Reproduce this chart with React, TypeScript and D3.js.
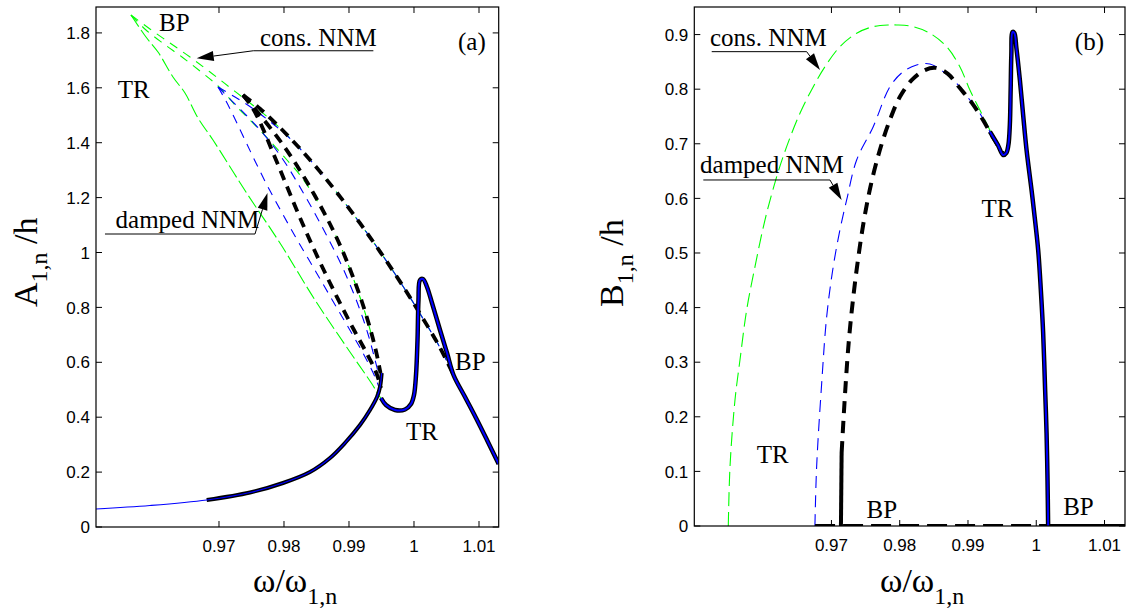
import React from 'react';
import * as d3 from 'd3';

type P = [number, number];

// ---------------- ticks ----------------
const xTicks = [0.97, 0.98, 0.99, 1.0, 1.01];
const yTicksA = [0, 0.2, 0.4, 0.6, 0.8, 1.0, 1.2, 1.4, 1.6, 1.8];
const yTicksB = [0, 0.1, 0.2, 0.3, 0.4, 0.5, 0.6, 0.7, 0.8, 0.9];

// ---------------- panel (a) : A_{1,n}/h ----------------
const aStableLow: P[] = [
  [0.95108, 0.0656], [0.95938, 0.0783], [0.96811, 0.0984], [0.97477, 0.1257],
  [0.97985, 0.1603], [0.984, 0.2004], [0.98708, 0.2514], [0.98938, 0.306],
  [0.99169, 0.3716], [0.99323, 0.4262], [0.99431, 0.4736], [0.99477, 0.51],
  [0.99503, 0.561],
];
const aPeak: P[] = [
  [0.99492, 0.4699], [0.99569, 0.4444], [0.99708, 0.4262], [0.99862, 0.4281],
  [0.99954, 0.4481], [1.0, 0.4809], [1.00031, 0.5537], [1.00054, 0.6812],
  [1.00069, 0.827], [1.00092, 0.8998], [1.00138, 0.9035], [1.002, 0.8743],
  [1.00277, 0.816], [1.004, 0.7177], [1.00508, 0.6339], [1.00608, 0.5537],
  [1.00785, 0.4736], [1.00954, 0.3971], [1.01123, 0.3169], [1.01303, 0.2295],
];
const aGreenL: P[] = [
  [0.95646, 1.8652], [0.95877, 1.7851], [0.96062, 1.7304], [0.96292, 1.6393],
  [0.96477, 1.5811], [0.96677, 1.49], [0.96908, 1.4098], [0.97415, 1.2204],
  [0.97938, 1.0346], [0.98477, 0.827], [0.99015, 0.6375], [0.99354, 0.5209],
  [0.99477, 0.4736], [0.996, 0.4408], [0.99708, 0.4226],
];
const aGreenM: P[] = [
  [0.95646, 1.8652], [0.95877, 1.8106], [0.96154, 1.7596], [0.96431, 1.7122],
  [0.96708, 1.6612], [0.96985, 1.6066], [0.97262, 1.5337], [0.97538, 1.4681],
  [0.978, 1.4026], [0.98046, 1.337], [0.98246, 1.2823], [0.98446, 1.2131],
  [0.98631, 1.1403], [0.988, 1.0601], [0.98954, 0.9763], [0.99092, 0.8889],
  [0.99215, 0.8051], [0.99308, 0.7322], [0.99369, 0.6812],
];
const aGreenR: P[] = [
  [0.95646, 1.8652], [0.95938, 1.8142], [0.96246, 1.7632], [0.96554, 1.7122],
  [0.96862, 1.6576], [0.97169, 1.6011], [0.97477, 1.5446], [0.97785, 1.4863],
  [0.98015, 1.4353], [0.98246, 1.3785], [0.98554, 1.2947], [0.98862, 1.2036],
  [0.99169, 1.1067], [0.99477, 1.0033], [0.99785, 0.894], [1.00092, 0.7774],
  [1.004, 0.6536], [1.00608, 0.5537],
];
const aBlueL: P[] = [
  [0.96985, 1.6029], [0.97108, 1.5519], [0.97246, 1.4863], [0.974, 1.4098],
  [0.97569, 1.326], [0.97754, 1.2386], [0.97954, 1.1512], [0.98169, 1.0601],
  [0.98385, 0.9727], [0.986, 0.8852], [0.98815, 0.7978], [0.99031, 0.7104],
  [0.99231, 0.6266], [0.994, 0.5464], [0.99492, 0.4882],
];
const aBlueM: P[] = [
  [0.96985, 1.6029], [0.972, 1.5519], [0.97431, 1.4973], [0.97646, 1.4426],
  [0.97846, 1.3843], [0.98031, 1.3224], [0.982, 1.2568], [0.98369, 1.1876],
  [0.98538, 1.1148], [0.98708, 1.0383], [0.98877, 0.9581], [0.99031, 0.8743],
  [0.99169, 0.7905], [0.99292, 0.7031], [0.99385, 0.623], [0.99462, 0.5501],
];
const aBlueR: P[] = [
  [0.96985, 1.6029], [0.97246, 1.5665], [0.97508, 1.5264], [0.97754, 1.4827],
  [0.98, 1.4353], [0.98246, 1.3785], [0.98554, 1.2947], [0.98862, 1.2036],
  [0.99169, 1.1067], [0.99477, 1.0033], [0.99785, 0.894], [1.00092, 0.7774],
  [1.004, 0.6536], [1.00608, 0.5537],
];
const aBlackL: P[] = [
  [0.97369, 1.5738], [0.97477, 1.541], [0.97585, 1.4973], [0.97692, 1.4426],
  [0.978, 1.3807], [0.97923, 1.3115], [0.98062, 1.2313], [0.98215, 1.1439],
  [0.98369, 1.0601], [0.98538, 0.9727], [0.98708, 0.8889], [0.98892, 0.8015],
  [0.99077, 0.7177], [0.99262, 0.6375], [0.99415, 0.5647], [0.99492, 0.5064],
];
const aBlackM: P[] = [
  [0.97369, 1.5738], [0.97554, 1.5228], [0.97754, 1.4645], [0.97954, 1.4026],
  [0.98154, 1.3333], [0.98354, 1.2568], [0.98554, 1.173], [0.98738, 1.0893],
  [0.98908, 1.0018], [0.99062, 0.9107], [0.992, 0.8197], [0.99323, 0.725],
  [0.99415, 0.6412], [0.99485, 0.561],
];
const aBlackR: P[] = [
  [0.97369, 1.5738], [0.97631, 1.5242], [0.97938, 1.455], [0.98246, 1.3785],
  [0.98554, 1.2947], [0.98862, 1.2036], [0.99169, 1.1067], [0.99477, 1.0033],
  [0.99785, 0.894], [1.00092, 0.7774], [1.004, 0.6536], [1.00608, 0.5537],
];

// ---------------- panel (b) : B_{1,n}/h ----------------
const bGreen: P[] = [
  [0.95489, 0], [0.95514, 0.1086], [0.95587, 0.2308], [0.9566, 0.304],
  [0.95758, 0.3956], [0.9588, 0.4749], [0.96026, 0.5604], [0.96198, 0.6397],
  [0.96344, 0.6947], [0.96539, 0.7559], [0.96734, 0.8046], [0.96905, 0.8412],
  [0.97124, 0.8778], [0.97369, 0.9024], [0.97612, 0.9145], [0.97857, 0.9176],
  [0.97955, 0.9176], [0.98198, 0.9145], [0.98442, 0.9024], [0.98687, 0.8778],
  [0.98881, 0.8412], [0.99028, 0.7985], [0.99174, 0.7619], [0.9932, 0.7253],
  [0.99442, 0.6947], [0.99515, 0.6795],
];
const bBlue: P[] = [
  [0.96758, 0], [0.96783, 0.1086], [0.96857, 0.2614], [0.9693, 0.3833],
  [0.97026, 0.4749], [0.97124, 0.5421], [0.97223, 0.5971], [0.97369, 0.6703],
  [0.97612, 0.7313], [0.97857, 0.8046], [0.98051, 0.8321], [0.98247, 0.8443],
  [0.98442, 0.8462], [0.98637, 0.8321], [0.98881, 0.8046], [0.99028, 0.7802],
  [0.99174, 0.7559], [0.9932, 0.7222], [0.99442, 0.6947], [0.99515, 0.6795],
];
const bBlackSolidFoot: P[] = [[0.97139, 0], [0.97149, 0.1337]];
const bBlackDashed: P[] = [
  [0.97149, 0.1337], [0.97176, 0.194], [0.97212, 0.267], [0.97256, 0.341],
  [0.97315, 0.414], [0.97388, 0.487], [0.97476, 0.56], [0.97578, 0.625],
  [0.9771, 0.689], [0.97857, 0.744], [0.98003, 0.786], [0.98179, 0.817],
  [0.98369, 0.835], [0.9853, 0.839], [0.98706, 0.828], [0.98881, 0.802],
  [0.99057, 0.775], [0.99218, 0.744], [0.99364, 0.712], [0.9951, 0.683],
];
const bPeak: P[] = [
  [0.99321, 0.7222], [0.99438, 0.6978], [0.99515, 0.6795], [0.99562, 0.6832],
  [0.99592, 0.6978], [0.99613, 0.7344], [0.99625, 0.7985], [0.99635, 0.8626],
  [0.99653, 0.9048], [0.99679, 0.9029], [0.99709, 0.8755], [0.9976, 0.8168],
  [0.99808, 0.7527], [0.99858, 0.6886], [0.99931, 0.6154], [0.99965, 0.5788],
  [1.00028, 0.5055], [1.00067, 0.4322], [1.00101, 0.3535], [1.0013, 0.2491],
  [1.00151, 0.1703], [1.00165, 0.0842], [1.00174, 0],
];
const bZeroUnstable: P[] = [[0.9676, 0], [1.00174, 0]];
const bZeroStable: P[] = [[1.00174, 0], [1.013, 0]];

// ---------------- annotations (data coordinates) ----------------
const annA = {
  bpTop: [0.96077, 1.807] as P,
  trTop: [0.95442, 1.5628] as P,
  trLow: [0.99877, 0.3169] as P,
  bpRight: [1.00631, 0.572] as P,
  panel: [1.00677, 1.7377] as P,
  consText: [0.97631, 1.754] as P,
  consLine: [[0.99375, 1.735], [0.97528, 1.735]] as P[],
  consTip: [0.96657, 1.7074] as P,
  dampText: [0.9762, 1.0893] as P,
  dampLine: [[0.95246, 1.0674], [0.97554, 1.0674]] as P[],
  dampTip: [0.97746, 1.2168] as P,
};
const annB = {
  trUp: [0.99199, 0.5659] as P,
  trLow: [0.95905, 0.1154] as P,
  bpMid: [0.97515, 0.0147] as P,
  bpRight: [1.00394, 0.0201] as P,
  panel: [1.00565, 0.8718] as P,
  consText: [0.95221, 0.8791] as P,
  consLine: [[0.95246, 0.8687], [0.96637, 0.8687]] as P[],
  consTip: [0.96832, 0.8352] as P,
  dampText: [0.95075, 0.6465] as P,
  dampLine: [[0.95123, 0.6337], [0.96978, 0.6337]] as P[],
  dampTip: [0.97149, 0.5971] as P,
};

const SERIF = '"Liberation Serif", "Times New Roman", serif';
const SANS = '"Liberation Sans", Arial, Helvetica, sans-serif';
const GREEN = '#00ff00';
const BLUE = '#0000ff';

type Scale = d3.ScaleLinear<number, number>;

function mk(xs: Scale, ys: Scale) {
  return d3
    .line<P>()
    .x((d) => xs(d[0]))
    .y((d) => ys(d[1]))
    .curve(d3.curveCatmullRom.alpha(0.5));
}

function Arrow({ from, to }: { from: [number, number]; to: [number, number] }) {
  const [x1, y1] = from;
  const [x2, y2] = to;
  const dx = x2 - x1, dy = y2 - y1;
  const len = Math.hypot(dx, dy);
  const ux = dx / len, uy = dy / len;
  const L = 17, w = 5;
  const bx = x2 - ux * L, by = y2 - uy * L;
  const pts = [
    [x2, y2],
    [bx - uy * w, by + ux * w],
    [bx + uy * w, by - ux * w],
  ];
  return (
    <g>
      <line x1={x1} y1={y1} x2={bx} y2={by} stroke="#000" strokeWidth={1} />
      <polygon points={pts.map((p) => p.join(',')).join(' ')} fill="#000" />
    </g>
  );
}

function Frame({ xs, ys, yTicks, id }: { xs: Scale; ys: Scale; yTicks: number[]; id: string }) {
  const [l, r] = xs.range();
  const [b, t] = ys.range();
  const fmt = (v: number) => String(+v.toFixed(2));
  const TL = 6;
  return (
    <g>
      <rect x={l} y={t} width={r - l} height={b - t} fill="none" stroke="#000" strokeWidth={1.2} />
      {xTicks.map((v) => (
        <g key={id + 'x' + v}>
          <line x1={xs(v)} x2={xs(v)} y1={b} y2={b - TL} stroke="#000" />
          <line x1={xs(v)} x2={xs(v)} y1={t} y2={t + TL} stroke="#000" />
          <text x={xs(v)} y={b + 25} textAnchor="middle" fontFamily={SANS} fontSize={17}>
            {fmt(v)}
          </text>
        </g>
      ))}
      {yTicks.map((v) => (
        <g key={id + 'y' + v}>
          <line x1={l} x2={l + TL} y1={ys(v)} y2={ys(v)} stroke="#000" />
          <line x1={r} x2={r - TL} y1={ys(v)} y2={ys(v)} stroke="#000" />
          <text x={l - 6} y={ys(v)} dy="0.36em" textAnchor="end" fontFamily={SANS} fontSize={17}>
            {fmt(v)}
          </text>
        </g>
      ))}
    </g>
  );
}

function Label({ at, xs, ys, text, anchor = 'start' }: { at: P; xs: Scale; ys: Scale; text: string; anchor?: string }) {
  return (
    <text x={xs(at[0])} y={ys(at[1])} fontFamily={SERIF} fontSize={25} textAnchor={anchor}>
      {text}
    </text>
  );
}

export default function App() {
  const xA = d3.scaleLinear().domain([0.95108, 1.01303]).range([96, 498.7]);
  const yA = d3.scaleLinear().domain([0, 1.8944]).range([527, 7]);
  const xB = d3.scaleLinear().domain([0.94991, 1.013]).range([694.3, 1125]);
  const yB = d3.scaleLinear().domain([0, 0.9505]).range([526, 7]);
  const lA = mk(xA, yA);
  const lB = mk(xB, yB);
  const lowBlack = aStableLow.filter((d) => d[0] >= 0.968);

  const thinDash = '9,7';
  const blackDash = '10,7';

  return (
    <svg
      width={1130}
      height={612}
      viewBox="0 0 1130 612"
      style={{ position: 'absolute', left: 0, top: 0, background: '#fff' }}
    >
      <defs>
        <clipPath id="clipA">
          <rect x={96} y={7} width={402.7} height={520} />
        </clipPath>
        <clipPath id="clipB">
          <rect x={694.3} y={7} width={430.7} height={519} />
        </clipPath>
      </defs>
      <rect x={0} y={0} width={1130} height={612} fill="#fff" />

      {/* ---------- panel (a) ---------- */}
      <g clipPath="url(#clipA)" fill="none" strokeLinecap="butt">
        <path d={lA(aGreenL)!} stroke={GREEN} strokeWidth={1.1} strokeDasharray="14,4" />
        <path d={lA(aGreenM)!} stroke={GREEN} strokeWidth={1.1} strokeDasharray={thinDash} />
        <path d={lA(aGreenR)!} stroke={GREEN} strokeWidth={1.1} strokeDasharray={thinDash} />
        <path d={lA(aBlueL)!} stroke={BLUE} strokeWidth={1.1} strokeDasharray={thinDash} />
        <path d={lA(aBlueM)!} stroke={BLUE} strokeWidth={1.1} strokeDasharray={thinDash} />
        <path d={lA(aBlueR)!} stroke={BLUE} strokeWidth={1.1} strokeDasharray={thinDash} />
        <path d={lA(aBlackL)!} stroke="#000" strokeWidth={3.8} strokeDasharray={blackDash} />
        <path d={lA(aBlackM)!} stroke="#000" strokeWidth={3.8} strokeDasharray={blackDash} />
        <path d={lA(aBlackR)!} stroke="#000" strokeWidth={3.8} strokeDasharray={blackDash} />
        <path d={lA(lowBlack)!} stroke="#000" strokeWidth={4} />
        <path d={lA(aStableLow)!} stroke={BLUE} strokeWidth={1.2} />
        <path d={lA(aPeak)!} stroke="#000" strokeWidth={4.5} />
        <path d={lA(aPeak)!} stroke={BLUE} strokeWidth={2} />
      </g>
      <Frame xs={xA} ys={yA} yTicks={yTicksA} id="a" />
      <Label at={annA.bpTop} xs={xA} ys={yA} text="BP" />
      <Label at={annA.trTop} xs={xA} ys={yA} text="TR" />
      <Label at={annA.trLow} xs={xA} ys={yA} text="TR" />
      <Label at={annA.bpRight} xs={xA} ys={yA} text="BP" />
      <Label at={annA.panel} xs={xA} ys={yA} text="(a)" />
      <Label at={annA.consText} xs={xA} ys={yA} text="cons. NNM" />
      <Label at={annA.dampText} xs={xA} ys={yA} text="damped NNM" anchor="end" />
      <line
        x1={xA(annA.consLine[0][0])} y1={yA(annA.consLine[0][1])}
        x2={xA(annA.consLine[1][0])} y2={yA(annA.consLine[1][1])}
        stroke="#000" strokeWidth={1}
      />
      <Arrow
        from={[xA(annA.consLine[1][0]), yA(annA.consLine[1][1])]}
        to={[xA(annA.consTip[0]), yA(annA.consTip[1])]}
      />
      <line
        x1={xA(annA.dampLine[0][0])} y1={yA(annA.dampLine[0][1])}
        x2={xA(annA.dampLine[1][0])} y2={yA(annA.dampLine[1][1])}
        stroke="#000" strokeWidth={1}
      />
      <Arrow
        from={[xA(annA.dampLine[1][0]), yA(annA.dampLine[1][1])]}
        to={[xA(annA.dampTip[0]), yA(annA.dampTip[1])]}
      />
      <text x={253} y={592} fontFamily={SERIF} fontSize={34}>
        ω/ω<tspan fontSize={24} dy={12}>1,n</tspan>
      </text>
      <text transform="translate(37,307) rotate(-90)" fontFamily={SERIF} fontSize={34}>
        A<tspan fontSize={24} dy={10}>1,n</tspan>
        <tspan dy={-10}> /h</tspan>
      </text>

      {/* ---------- panel (b) ---------- */}
      <g clipPath="url(#clipB)" fill="none" strokeLinecap="butt">
        <path d={lB(bGreen)!} stroke={GREEN} strokeWidth={1.1} strokeDasharray="14,6" />
        <path d={lB(bBlue)!} stroke={BLUE} strokeWidth={1.1} strokeDasharray="12,7" />
        <path d={lB(bBlackDashed)!} stroke="#000" strokeWidth={4} strokeDasharray="12,8" />
        <path d={lB(bBlackSolidFoot)!} stroke="#000" strokeWidth={4} />
        <path d={lB(bZeroUnstable)!} stroke="#000" strokeWidth={4} strokeDasharray="20,8" />
        <path d={lB(bZeroStable)!} stroke="#000" strokeWidth={4} />
        <path d={lB(bPeak)!} stroke="#000" strokeWidth={4.5} />
        <path d={lB(bPeak)!} stroke={BLUE} strokeWidth={2} />
      </g>
      <Frame xs={xB} ys={yB} yTicks={yTicksB} id="b" />
      <Label at={annB.trUp} xs={xB} ys={yB} text="TR" />
      <Label at={annB.trLow} xs={xB} ys={yB} text="TR" />
      <Label at={annB.bpMid} xs={xB} ys={yB} text="BP" />
      <Label at={annB.bpRight} xs={xB} ys={yB} text="BP" />
      <Label at={annB.panel} xs={xB} ys={yB} text="(b)" />
      <Label at={annB.consText} xs={xB} ys={yB} text="cons. NNM" />
      <Label at={annB.dampText} xs={xB} ys={yB} text="damped NNM" />
      <line
        x1={xB(annB.consLine[0][0])} y1={yB(annB.consLine[0][1])}
        x2={xB(annB.consLine[1][0])} y2={yB(annB.consLine[1][1])}
        stroke="#000" strokeWidth={1}
      />
      <Arrow
        from={[xB(annB.consLine[1][0]), yB(annB.consLine[1][1])]}
        to={[xB(annB.consTip[0]), yB(annB.consTip[1])]}
      />
      <line
        x1={xB(annB.dampLine[0][0])} y1={yB(annB.dampLine[0][1])}
        x2={xB(annB.dampLine[1][0])} y2={yB(annB.dampLine[1][1])}
        stroke="#000" strokeWidth={1}
      />
      <Arrow
        from={[xB(annB.dampLine[1][0]), yB(annB.dampLine[1][1])]}
        to={[xB(annB.dampTip[0]), yB(annB.dampTip[1])]}
      />
      <text x={880} y={592} fontFamily={SERIF} fontSize={34}>
        ω/ω<tspan fontSize={24} dy={12}>1,n</tspan>
      </text>
      <text transform="translate(623,307) rotate(-90)" fontFamily={SERIF} fontSize={34}>
        B<tspan fontSize={24} dy={10}>1,n</tspan>
        <tspan dy={-10}> /h</tspan>
      </text>
    </svg>
  );
}
